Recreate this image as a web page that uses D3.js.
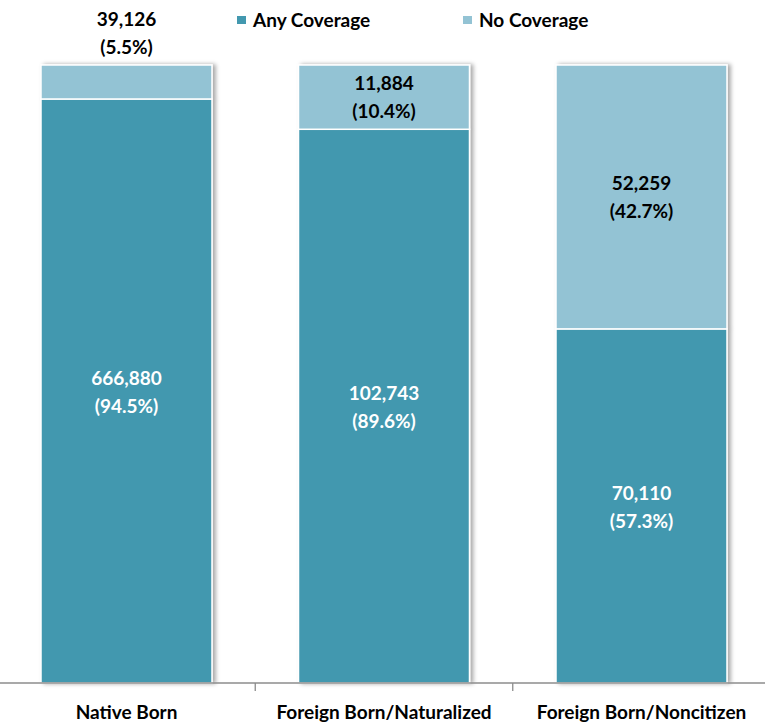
<!DOCTYPE html>
<html>
<head>
<meta charset="utf-8">
<script src="https://cdn.jsdelivr.net/npm/d3@7"></script>
<style>
  body { margin: 0; background: #fff; }
  text { font-family: Lato, "Liberation Sans", sans-serif; font-weight: bold; }
</style>
</head>
<body>
<div id="chart"></div>
<script>
// data
var categories = ["Native Born", "Foreign Born/Naturalized", "Foreign Born/Noncitizen"];
var anyCoverage = [666880, 102743, 70110];
var noCoverage = [39126, 11884, 52259];
var anyPct = [94.5, 89.6, 57.3];
var noPct = [5.5, 10.4, 42.7];
var seriesNames = ["Any Coverage", "No Coverage"];

var svgWidth = 765;
var svgHeight = 723;
var darkColor = "#4398af";
var lightColor = "#93c3d4";
var fontSize = "19px";

var svg = d3.select("#chart")
    .append("svg")
    .attr("width", svgWidth)
    .attr("height", svgHeight);

// soft shadow on the right side of the bars
var defs = svg.append("defs");
var filter = defs.append("filter")
    .attr("id", "shadow")
    .attr("x", "-10%").attr("y", "-5%")
    .attr("width", "130%").attr("height", "110%");
filter.append("feDropShadow")
    .attr("dx", 3)
    .attr("dy", 0)
    .attr("stdDeviation", 2)
    .attr("flood-color", "#000")
    .attr("flood-opacity", 0.35);

var xScale = d3.scaleBand()
    .domain(categories)
    .range([-2.25, 770.25])
    .paddingInner(0.336)
    .paddingOuter(0.168);

var yScale = d3.scaleLinear()
    .domain([0, 100])
    .range([683, 65]);

var rows = categories.map(function(c, i) {
    return { cat: c, any: anyCoverage[i], no: noCoverage[i], anyP: anyPct[i], noP: noPct[i] };
});

var fmt = d3.format(",");

var barGroups = svg.selectAll(".bar")
    .data(rows)
    .enter()
    .append("g")
    .attr("class", "bar")
    .attr("filter", "url(#shadow)");

// Any coverage (bottom)
barGroups.append("rect")
    .attr("x", d => xScale(d.cat))
    .attr("width", xScale.bandwidth())
    .attr("y", d => yScale(d.anyP))
    .attr("height", d => yScale(0) - yScale(d.anyP))
    .attr("fill", darkColor)
    .attr("stroke", "#fff")
    .attr("stroke-width", 1.5);

// No coverage (top)
barGroups.append("rect")
    .attr("x", d => xScale(d.cat))
    .attr("width", xScale.bandwidth())
    .attr("y", yScale(100))
    .attr("height", d => yScale(d.anyP) - yScale(100))
    .attr("fill", lightColor)
    .attr("stroke", "#fff")
    .attr("stroke-width", 1.5);

// axis line along the bottom
var axis = d3.axisBottom(xScale).tickSize(0).tickFormat("");
svg.append("g")
    .attr("transform", "translate(0,683)")
    .call(axis)
    .call(g => g.select(".domain").attr("d", "M0,0H765").attr("stroke", "#8c8c8c").attr("stroke-width", 1.3));

// tick marks between categories
var bounds = categories.slice(1).map(c => xScale(c) - xScale.step() * xScale.paddingInner() / 2);
svg.selectAll(".sep")
    .data(bounds)
    .enter()
    .append("line")
    .attr("x1", d => d).attr("x2", d => d)
    .attr("y1", 683).attr("y2", 691)
    .attr("stroke", "#8c8c8c")
    .attr("stroke-width", 1.3);

// category labels
svg.selectAll(".catLabel")
    .data(categories)
    .enter()
    .append("text")
    .attr("x", d => xScale(d) + xScale.bandwidth() / 2)
    .attr("y", 719)
    .attr("text-anchor", "middle")
    .style("font-size", fontSize)
    .attr("fill", "#000")
    .text(d => d);

function twoLines(sel, x, yMid, line1, line2, color) {
    var t = sel.append("text")
        .attr("text-anchor", "middle")
        .attr("fill", color)
        .style("font-size", fontSize);
    t.append("tspan").attr("x", x).attr("y", yMid - 14 + 7).text(line1);
    t.append("tspan").attr("x", x).attr("y", yMid + 14 + 7).text(line2);
}

var labels = svg.append("g");
rows.forEach(function(d) {
    var cx = xScale(d.cat) + xScale.bandwidth() / 2;
    var anyMid = (yScale(0) + yScale(d.anyP)) / 2 + 1;
    twoLines(labels, cx, anyMid, fmt(d.any), "(" + d.anyP.toFixed(1) + "%)", "#fff");
    var top = yScale(100), split = yScale(d.anyP);
    var noMid = (split - top < 45) ? top - 32 : (top + split) / 2;
    twoLines(labels, cx, noMid, fmt(d.no), "(" + d.noP.toFixed(1) + "%)", "#000");
});

// legend
var legendX = [237, 463];
var legendColors = [darkColor, lightColor];
var legend = svg.selectAll(".legend")
    .data(seriesNames)
    .enter()
    .append("g")
    .attr("class", "legend")
    .attr("transform", (d, i) => `translate(${legendX[i]}, 16)`);
legend.append("rect")
    .attr("width", 9)
    .attr("height", 8)
    .attr("fill", (d, i) => legendColors[i]);
legend.append("text")
    .attr("x", 16)
    .attr("y", 11)
    .style("font-size", fontSize)
    .attr("fill", "#000")
    .text(d => d);
</script>
</body>
</html>
